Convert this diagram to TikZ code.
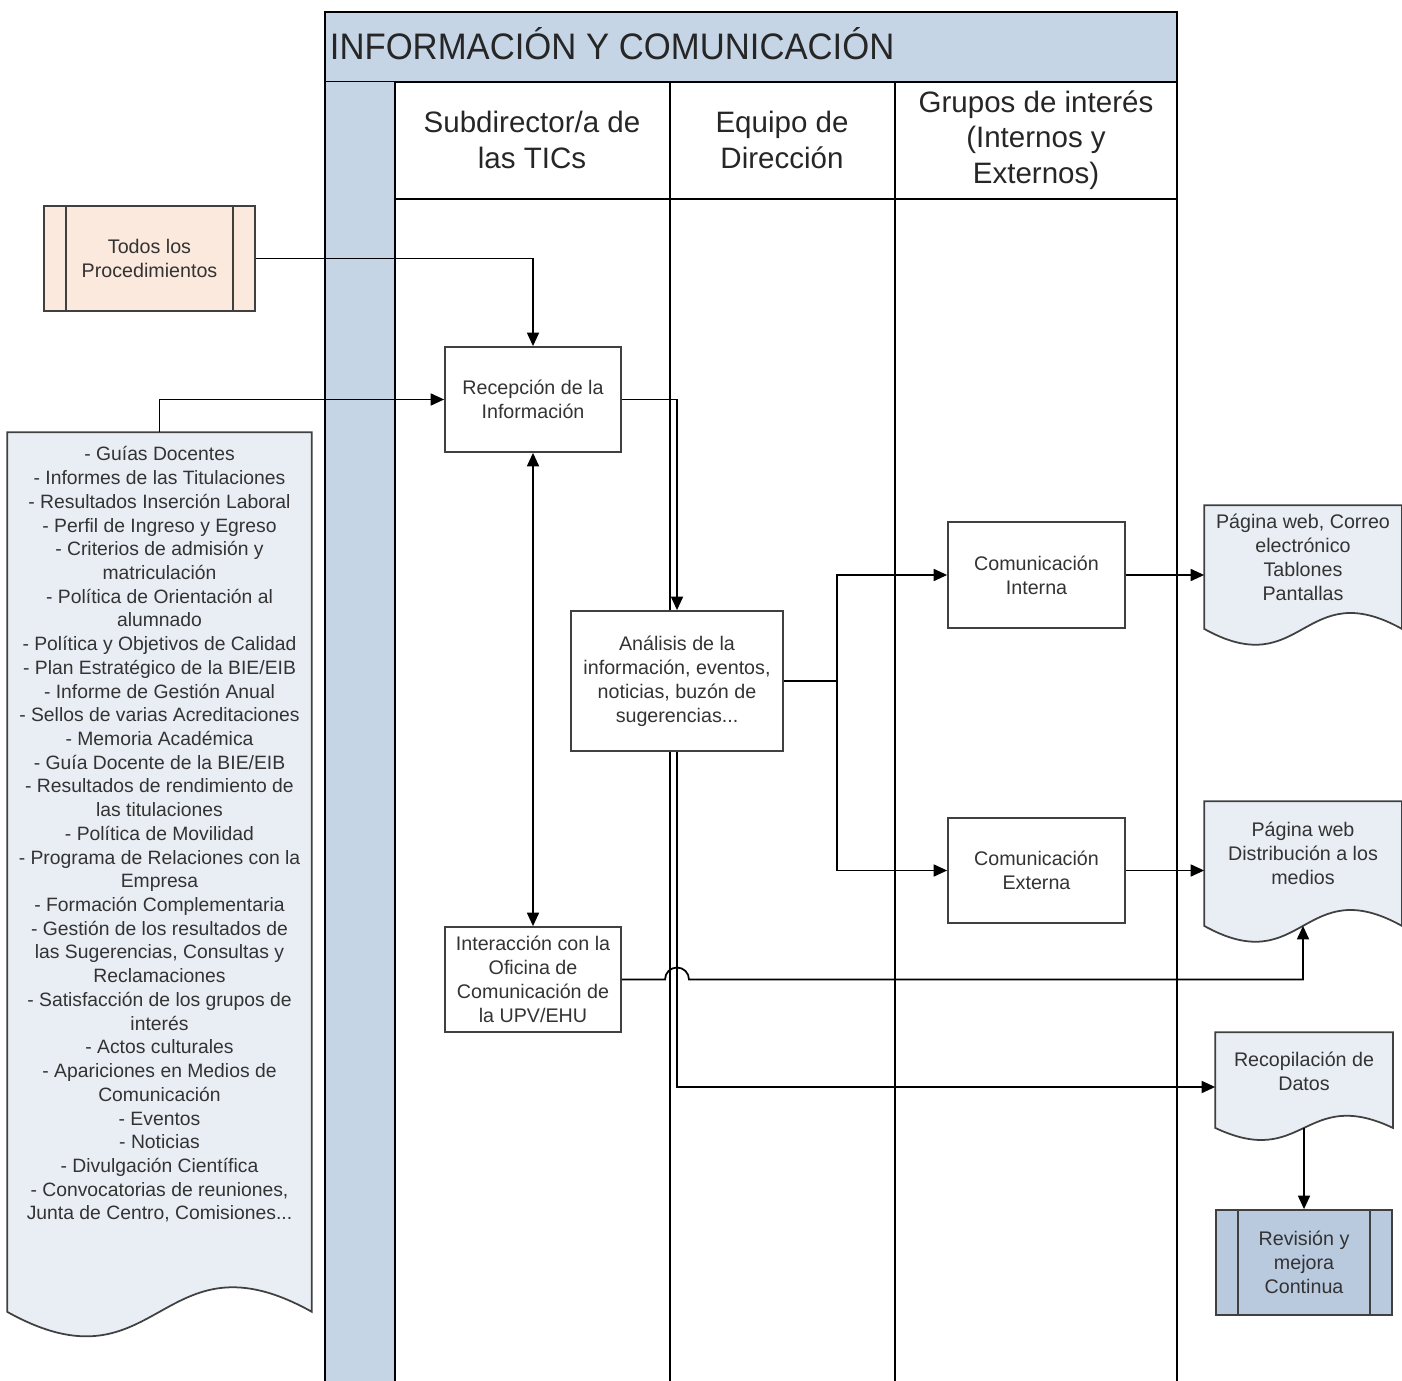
\documentclass[tikz,border=0pt]{standalone}
\usepackage{fontspec}
\setmainfont{Liberation Sans}
\newfontfamily\titlefont[FakeStretch=0.94]{Liberation Sans}
\usepackage{tikz}
\usetikzlibrary{positioning,arrows.meta,calc,backgrounds}
\definecolor{lanebl}{HTML}{C6D5E6}
\definecolor{docbl}{HTML}{E9EEF5}
\definecolor{revbl}{HTML}{B9CADF}
\definecolor{procor}{HTML}{FBE9DD}
\definecolor{txtg}{HTML}{333333}

\tikzset{
  box/.style={draw=black!75,line width=1pt,fill=white,inner sep=0pt,align=center,
    text=txtg,font=\fontsize{11.2}{13.6}\selectfont},
  predef/.style={box,path picture={
    \draw[line width=1pt,black!75]
      ([xshift=0.44cm]path picture bounding box.north west) -- ([xshift=0.44cm]path picture bounding box.south west)
      ([xshift=-0.44cm]path picture bounding box.north east) -- ([xshift=-0.44cm]path picture bounding box.south east);}},
  docnode/.style={inner sep=0pt,align=center,text=txtg,font=\fontsize{11.2}{13.6}\selectfont},
  docshape/.style={draw=black!75,line width=1pt,fill=docbl},
  lanehead/.style={inner sep=0pt,align=center,text=black!85,font=\fontsize{16.8}{20.3}\selectfont}
}

% outline of a document node: name, depth of wave line below south, wave control
\newcommand{\docline}[3]{%
  \begin{scope}[on background layer]
  \draw[docshape] ($(#1.south west)+(0,#2)$) -- (#1.north west) -- (#1.north east) -- ($(#1.south east)+(0,#2)$)
    .. controls ($(#1.south)+(0,#2-#3)$) and ($(#1.south)+(0,#2+#3)$) .. ($(#1.south west)+(0,#2)$) -- cycle;
  \end{scope}}

\begin{document}
\begin{tikzpicture}[x=0.02cm,y=-0.02cm,line width=1pt,>={Triangle[length=0.27cm,width=0.24cm]}]
\useasboundingbox (0,0) rectangle (1402,1381);

\draw[fill=lanebl] (325,12) rectangle (1177,82);
\fill[lanebl] (325,82) rectangle (395,1381);
\foreach \x in {325,395,670,895,1177}{
  \draw (\x,82) -- (\x,1381);
}
\draw (395,199) -- (1177,199);
\node[anchor=west,inner sep=0pt,text=black!85,font=\titlefont\fontsize{21}{24}\selectfont] (title) at (329,44) {INFORMACIÓN Y COMUNICACIÓN};
\node[lanehead] (hsub) at (532,140) {Subdirector/a de\\las TICs};
\node[lanehead] (hdir) at (782,140) {Equipo de\\Dirección};
\node[lanehead] (hgru) at (1036,140) {Grupos de interés\\(Internos y\\Externos)};

\node[predef,fill=procor,minimum width=4.22cm,minimum height=2.1cm] (todos) at (149.5,258.5) {Todos los\\Procedimientos};
\node[box,minimum width=3.52cm,minimum height=2.1cm] (rec) at (533,399.5) {Recepción de la\\Información};
\node[box,minimum width=4.24cm,minimum height=2.8cm] (ana) at (677,681) {Análisis de la\\información, eventos,\\noticias, buzón de\\sugerencias...};
\node[box,minimum width=3.52cm,minimum height=2.1cm] (int) at (533,979.5) {Interacción con la\\Oficina de\\Comunicación de\\la UPV/EHU};
\node[box,minimum width=3.54cm,minimum height=2.12cm] (ci) at (1036.5,575) {Comunicación\\Interna};
\node[box,minimum width=3.54cm,minimum height=2.1cm] (ce) at (1036.5,870.5) {Comunicación\\Externa};
\node[predef,fill=revbl,minimum width=3.52cm,minimum height=2.1cm] (rev) at (1304,1262.5) {Revisión y\\mejora\\Continua};

\node[docnode,minimum width=3.92cm,minimum height=2.06cm] (doc1) at (1303,557.5) {Página web, Correo\\electrónico\\Tablones\\Pantallas};
\docline{doc1}{19}{55}
\node[docnode,minimum width=3.92cm,minimum height=2.04cm] (doc2) at (1303,853) {Página web\\Distribución a los\\medios};
\docline{doc2}{21}{55}
\node[docnode,minimum width=3.52cm,minimum height=1.52cm] (doc3) at (1304,1071) {Recopilación de\\Datos};
\docline{doc3}{18}{42}
\node[docnode,minimum width=6.06cm,minimum height=16.06cm,font=\fontsize{11}{13.5}\selectfont] (list) at (159.5,834.5) {%
- Guías Docentes\\- Informes de las Titulaciones\\- Resultados Inserción Laboral\\- Perfil de Ingreso y Egreso\\
- Criterios de admisión y\\matriculación\\- Política de Orientación al\\alumnado\\
- Política y Objetivos de Calidad\\- Plan Estratégico de la BIE/EIB\\- Informe de Gestión Anual\\
- Sellos de varias Acreditaciones\\- Memoria Académica\\- Guía Docente de la BIE/EIB\\
- Resultados de rendimiento de\\las titulaciones\\- Política de Movilidad\\
- Programa de Relaciones con la\\Empresa\\- Formación Complementaria\\
- Gestión de los resultados de\\las Sugerencias, Consultas y\\Reclamaciones\\
- Satisfacción de los grupos de\\interés\\- Actos culturales\\- Apariciones en Medios de\\Comunicación\\
- Eventos\\- Noticias\\- Divulgación Científica\\- Convocatorias de reuniones,\\Junta de Centro, Comisiones...};
\docline{list}{75}{85}

\coordinate (split) at ($(ana.east)+(53,0)$);
\coordinate (hop) at (int.east -| ana.south);
\coordinate (doc2in) at ($(doc2.south)+(0,21)$);
\coordinate (doc3out) at ($(doc3.south)+(0,18)$);

\draw[->] (todos.east) -| (rec.north);
\draw[->] (list.north) |- (rec.west);
\draw[->] (rec.east) -| (ana.north);
\draw[->] (ana.south) |- ($(doc3.west)+(0,16)$);
\draw (ana.east) -- (split);
\draw[->] (split) |- (ci.west);
\draw[->] (split) |- (ce.west);
\draw[->] (ci.east) -- (ci.east -| doc1.west);
\draw[->] (ce.east) -- (ce.east -| doc2.west);
\draw[<->] (rec.south) -- (int.north);
\draw[->] (int.east) -- ([xshift=-0.24cm]hop) arc[start angle=180,end angle=0,radius=0.24cm] -| (doc2in);
\draw[->] (doc3out) -- (rev.north);
\end{tikzpicture}
\end{document}
